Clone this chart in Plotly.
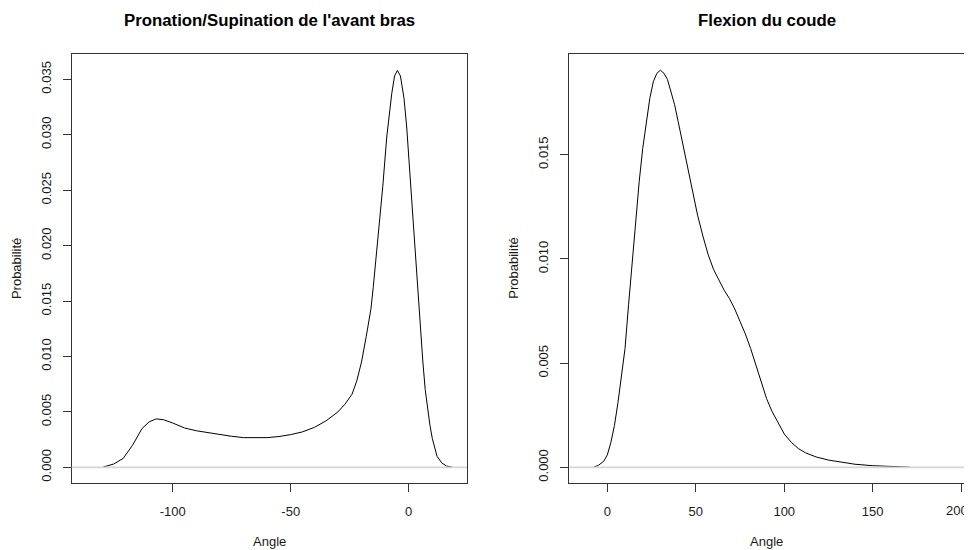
import plotly.graph_objects as go

# ---- Data: Pronation/Supination de l'avant bras (density) ----
pro_x = [-129.5, -125, -121, -117, -113, -110, -107, -104, -100, -95, -90, -85, -80,
         -75, -70, -65, -60, -55, -50, -45, -40, -35, -30, -27, -24, -22, -20, -18,
         -16, -15, -13, -11, -9.3, -7.2, -6, -4.8, -3.5, -3.0, -2.0, -0.85, 0.55,
         2.25, 3.65, 5, 6, 7, 8, 9, 10, 11, 12, 14, 16, 18.5]
pro_y = [0.00002, 0.0003, 0.0008, 0.0020, 0.0035, 0.0041, 0.00437, 0.0043, 0.0040,
         0.00355, 0.0033, 0.00312, 0.00295, 0.0028, 0.00268, 0.00265, 0.00268,
         0.00278, 0.00295, 0.0032, 0.0036, 0.0042, 0.0050, 0.0057, 0.0066, 0.0078,
         0.0095, 0.0118, 0.0143, 0.0163, 0.0206, 0.0253, 0.0298, 0.0337, 0.0353,
         0.0358, 0.0353, 0.0347, 0.0333, 0.0307, 0.0262, 0.0217, 0.0172, 0.0125,
         0.0095, 0.0070, 0.0052, 0.0038, 0.0026, 0.0017, 0.0010, 0.0004, 0.00012,
         0.00001]

# ---- Data: Flexion du coude (density) ----
flex_x = [-8, -5, -2, 0, 2, 4, 6, 8, 10, 12, 14, 16, 18, 20, 22, 24, 26, 28, 30, 32,
          34, 36, 38, 40, 42, 45, 48, 51, 54, 57, 60, 63, 66, 69, 72, 75, 78, 81, 84,
          87, 90, 93, 96, 100, 104, 108, 112, 118, 125, 132, 140, 150, 160, 171]
flex_y = [0.0, 0.0001, 0.0003, 0.0006, 0.0012, 0.0020, 0.0031, 0.0043, 0.0057,
          0.0078, 0.0098, 0.0117, 0.0137, 0.0153, 0.0166, 0.0177, 0.0185, 0.0189,
          0.01905, 0.0189, 0.0186, 0.0180, 0.0174, 0.0166, 0.0158, 0.0145, 0.0133,
          0.0121, 0.0111, 0.0102, 0.0095, 0.0090, 0.0085, 0.0081, 0.0076, 0.0070,
          0.0064, 0.0057, 0.0049, 0.0041, 0.0033, 0.0027, 0.0022, 0.0016, 0.0012,
          0.0009, 0.0007, 0.0005, 0.00035, 0.00024, 0.00015, 0.00008, 0.00004,
          0.00001]

titles = ["Pronation/Supination de l'avant bras", "Flexion du coude"]
x_label = "Angle"
y_label = "Probabilité"
pro_xticks = [-100, -50, 0]
pro_yticks = [0.0, 0.005, 0.010, 0.015, 0.020, 0.025, 0.030, 0.035]
flex_xticks = [0, 50, 100, 150, 200]
flex_yticks = [0.0, 0.005, 0.010, 0.015]

OFF = 8  # page body margin offsets the figure by 8px right and down
W, H = 972 - OFF, 550 - OFF
FONT = "Liberation Sans, Arial, sans-serif"
TXT = "#1a1a1a"
BOX = "#333333"

def fx(px):  # screen x pixel -> paper fraction
    return (px - OFF) / W

def fy(py):  # screen y pixel -> paper fraction
    return 1 - (py - OFF) / H

fig = go.Figure()
fig.add_trace(go.Scatter(x=pro_x, y=pro_y, mode="lines",
                         line=dict(color="black", width=1), xaxis="x", yaxis="y",
                         showlegend=False, hoverinfo="skip"))
fig.add_trace(go.Scatter(x=flex_x, y=flex_y, mode="lines",
                         line=dict(color="black", width=1), xaxis="x2", yaxis="y2",
                         showlegend=False, hoverinfo="skip"))

# panel geometry (screen pixels in the reference)
L1, R1 = 71.7, 467.0
L2, R2 = 569.3, 964.0
TOP, BOT = 53.5, 483.3
ydom = [fy(BOT), fy(TOP)]

def xax(dom, rng, ticks, labels):
    return dict(domain=dom, range=rng, tickmode="array", tickvals=ticks,
                ticktext=labels,
                showline=True, mirror=True, linecolor=BOX, linewidth=1,
                ticks="outside", ticklen=8, tickwidth=1, tickcolor=BOX,
                showgrid=False, zeroline=False, ticklabelstandoff=8,
                tickfont=dict(family=FONT, size=13, color=TXT), fixedrange=True)

def yax(anchor, rng, ticks):
    return dict(domain=ydom, range=rng, anchor=anchor, tickmode="array",
                tickvals=ticks, ticktext=["%.3f" % t for t in ticks],
                tickangle=-90,
                showline=True, mirror=True, linecolor=BOX, linewidth=1,
                ticks="outside", ticklen=8, tickwidth=1, tickcolor=BOX,
                showgrid=False, zeroline=False, ticklabelstandoff=7,
                tickfont=dict(family=FONT, size=13, color=TXT), fixedrange=True)

# the last tick label of the right panel sits at the page edge; it is drawn as an
# annotation so it is not hidden by plotly's overflow rule
flex_labels = [str(t) for t in flex_xticks]
edge_label = flex_labels[-1]
flex_labels[-1] = ""

fig.update_layout(
    width=W, height=H, margin=dict(l=0, r=0, t=0, b=0),
    paper_bgcolor="white", plot_bgcolor="white", showlegend=False,
    xaxis=xax([fx(L1), fx(R1)], [-142.8, 24.7], pro_xticks,
              [str(t) for t in pro_xticks]) | dict(anchor="y"),
    yaxis=yax("x", [-0.00144, 0.03733], pro_yticks),
    xaxis2=xax([fx(L2), fx(R2)], [-21.5, 201.6], flex_xticks, flex_labels) | dict(anchor="y2"),
    yaxis2=yax("x2", [-0.000764, 0.01985], flex_yticks),
)

# zero lines drawn above curves (as in R's plot.density)
for xr, yr in (("x domain", "y"), ("x2 domain", "y2")):
    fig.add_shape(type="line", xref=xr, yref=yr, x0=0, x1=1, y0=0, y1=0,
                  line=dict(color="#d6d6d6", width=1.6), layer="above")

ann = []
for cx, t in ((L1 + R1) / 2, titles[0]), ((L2 + R2) / 2, titles[1]):
    ann.append(dict(x=fx(cx), y=fy(20), xref="paper", yref="paper",
                    text="<b>%s</b>" % t, showarrow=False, xanchor="center",
                    yanchor="middle", font=dict(family=FONT, size=16.8, color="black")))
    ann.append(dict(x=fx(cx), y=fy(541), xref="paper", yref="paper",
                    text=x_label, showarrow=False, xanchor="center", yanchor="middle",
                    font=dict(family=FONT, size=13, color=TXT)))
for px in (16.7, 513.3):
    ann.append(dict(x=fx(px), y=fy((TOP + BOT) / 2), xref="paper", yref="paper",
                    text=y_label, showarrow=False, textangle=-90, xanchor="center",
                    yanchor="middle", font=dict(family=FONT, size=13, color=TXT)))
ann.append(dict(x=flex_xticks[-1], xref="x2", y=fy(510.5), yref="paper",
                text=edge_label, showarrow=False, xanchor="center", yanchor="middle",
                xshift=-4.5, borderpad=0,
                font=dict(family=FONT, size=13, color=TXT)))
fig.update_layout(annotations=ann)

fig.write_html("out.html")
